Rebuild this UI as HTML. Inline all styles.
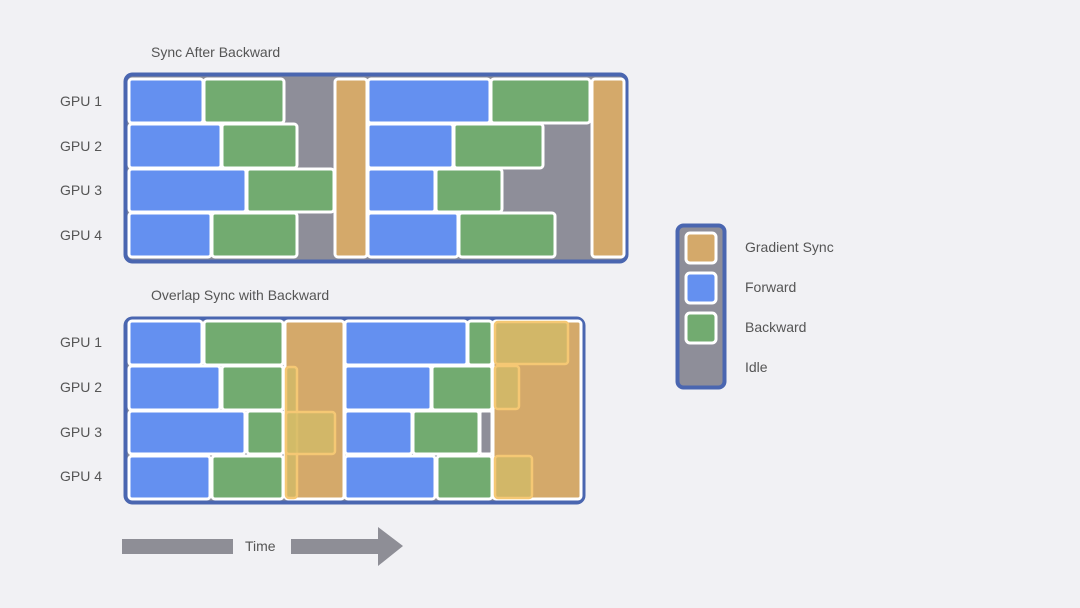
<!DOCTYPE html>
<html><head><meta charset="utf-8"><style>
body{margin:0;background:#f1f1f4;}
svg{display:block}
text{font-family:"Liberation Sans",sans-serif;fill:#555;font-size:14px}
.b{fill:#6490f0;stroke:#fff;stroke-width:3}
.g{fill:#72ab70;stroke:#fff;stroke-width:3}
.o{fill:#d4a96a;stroke:#fff;stroke-width:3}
.y{fill:#d2bc68;fill-opacity:.75;stroke:#f5c874;stroke-width:2.5}
</style></head><body>
<svg width="1080" height="608" viewBox="0 0 1080 608">
<rect width="1080" height="608" fill="#f1f1f4"/>
<text x="151" y="57">Sync After Backward</text>
<text x="151" y="300">Overlap Sync with Backward</text>
<g>
<text x="60" y="106">GPU 1</text><text x="60" y="151">GPU 2</text><text x="60" y="195">GPU 3</text><text x="60" y="240">GPU 4</text>
<text x="60" y="347">GPU 1</text><text x="60" y="392">GPU 2</text><text x="60" y="437">GPU 3</text><text x="60" y="481">GPU 4</text>
</g>
<!-- top -->
<rect x="125.5" y="74.5" width="501" height="187" rx="7" fill="#8e8e99" stroke="#4a66b0" stroke-width="4"/>
<rect class="b" x="129" y="79" width="74" height="44" rx="3"/><rect class="g" x="204" y="79" width="80" height="44" rx="3"/>
<rect class="b" x="129" y="124" width="92" height="44" rx="3"/><rect class="g" x="222" y="124" width="75" height="44" rx="3"/>
<rect class="b" x="129" y="169" width="117" height="43" rx="3"/><rect class="g" x="247" y="169" width="87" height="43" rx="3"/>
<rect class="b" x="129" y="213" width="82" height="44" rx="3"/><rect class="g" x="212" y="213" width="85" height="44" rx="3"/>
<rect class="o" x="335" y="79" width="32" height="178" rx="3"/>
<rect class="b" x="368" y="79" width="122" height="44" rx="3"/><rect class="g" x="491" y="79" width="99" height="44" rx="3"/>
<rect class="b" x="368" y="124" width="85" height="44" rx="3"/><rect class="g" x="454" y="124" width="89" height="44" rx="3"/>
<rect class="b" x="368" y="169" width="67" height="43" rx="3"/><rect class="g" x="436" y="169" width="66" height="43" rx="3"/>
<rect class="b" x="368" y="213" width="90" height="44" rx="3"/><rect class="g" x="459" y="213" width="96" height="44" rx="3"/>
<rect class="o" x="592" y="79" width="32" height="178" rx="3"/>
<!-- bottom -->
<rect x="125.5" y="318.5" width="458" height="184" rx="7" fill="#8e8e99" stroke="#4a66b0" stroke-width="4"/>
<rect class="b" x="129" y="321" width="73" height="44" rx="3"/><rect class="g" x="204" y="321" width="79" height="44" rx="3"/>
<rect class="b" x="129" y="366" width="91" height="44" rx="3"/><rect class="g" x="222" y="366" width="61" height="44" rx="3"/>
<rect class="b" x="129" y="411" width="116" height="43" rx="3"/><rect class="g" x="247" y="411" width="36" height="43" rx="3"/>
<rect class="b" x="129" y="456" width="81" height="43" rx="3"/><rect class="g" x="212" y="456" width="71" height="43" rx="3"/>
<rect class="o" x="285" y="321" width="59" height="178" rx="3"/>
<rect class="y" x="286" y="367" width="11" height="131" rx="3"/>
<rect class="y" x="286" y="412" width="49" height="42" rx="3"/>
<rect class="b" x="345" y="321" width="122" height="44" rx="3"/><rect class="g" x="468" y="321" width="24" height="44" rx="3"/>
<rect class="b" x="345" y="366" width="86" height="44" rx="3"/><rect class="g" x="432" y="366" width="60" height="44" rx="3"/>
<rect class="b" x="345" y="411" width="67" height="43" rx="3"/><rect class="g" x="413" y="411" width="66" height="43" rx="3"/>
<rect x="480" y="411" width="12" height="43" fill="#8e8e99" stroke="#fff" stroke-width="3" rx="2"/>
<rect class="b" x="345" y="456" width="90" height="43" rx="3"/><rect class="g" x="437" y="456" width="55" height="43" rx="3"/>
<rect class="o" x="493" y="321" width="88" height="178" rx="3"/>
<rect class="y" x="495" y="322" width="73" height="42" rx="3"/>
<rect class="y" x="495" y="366" width="24" height="43" rx="3"/>
<rect class="y" x="495" y="456" width="37" height="42" rx="3"/>
<!-- legend -->
<rect x="677.5" y="225.5" width="47" height="162" rx="6" fill="#8e8e99" stroke="#4a66b0" stroke-width="4"/>
<rect x="686" y="233" width="30" height="30" rx="4" fill="#d4a96a" stroke="#fff" stroke-width="3"/>
<rect x="686" y="273" width="30" height="30" rx="4" fill="#6490f0" stroke="#fff" stroke-width="3"/>
<rect x="686" y="313" width="30" height="30" rx="4" fill="#72ab70" stroke="#fff" stroke-width="3"/>
<text x="745" y="252">Gradient Sync</text>
<text x="745" y="292">Forward</text>
<text x="745" y="332">Backward</text>
<text x="745" y="372">Idle</text>
<!-- time -->
<rect x="122" y="539" width="111" height="15" fill="#8e8e96"/>
<text x="245" y="551">Time</text>
<polygon points="291,539 378,539 378,527 403,546 378,566 378,554 291,554" fill="#8e8e96"/>
</svg>
</body></html>
